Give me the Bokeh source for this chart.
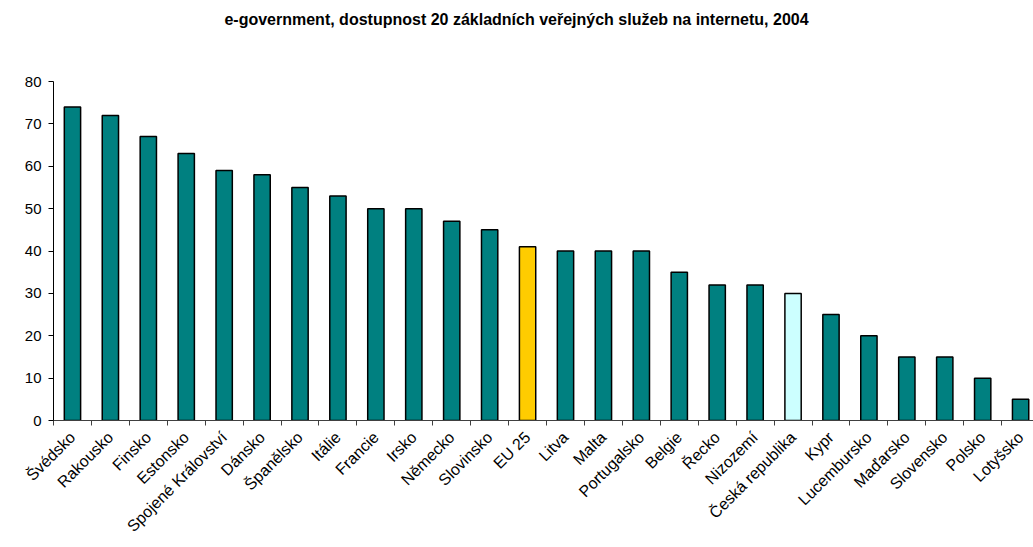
from bokeh.plotting import figure
from bokeh.models import Range1d, FixedTicker, LinearAxis, ColumnDataSource, Div
from bokeh.layouts import column
from bokeh.embed import file_html
from bokeh.resources import INLINE
import math

countries = ["Švédsko", "Rakousko", "Finsko", "Estonsko", "Spojené Království", "Dánsko",
             "Španělsko", "Itálie", "Francie", "Irsko", "Německo", "Slovinsko", "EU 25",
             "Litva", "Malta", "Portugalsko", "Belgie", "Řecko", "Nizozemí", "Česká republika",
             "Kypr", "Lucembursko", "Maďarsko", "Slovensko", "Polsko", "Lotyšsko"]
values = [74, 72, 67, 63, 59, 58, 55, 53, 50, 50, 47, 45, 41, 40, 40, 40, 35, 32, 32, 30,
          25, 20, 15, 15, 10, 5]
colors = ["#FFCC00" if c == "EU 25" else "#CCFFFF" if c == "Česká republika" else "#008080"
          for c in countries]
y_ticks = [0, 10, 20, 30, 40, 50, 60, 70, 80]
title_text = "e-government, dostupnost 20 základních veřejných služeb na internetu, 2004"

FONT = "Liberation Sans"
n = len(countries)
xs = [i + 0.5 for i in range(n)]
src = ColumnDataSource(dict(x=xs, top=values, color=colors))

TITLE_H = 45
title = Div(text=title_text, width=1033, height=TITLE_H, margin=0,
            styles={"font-family": FONT, "font-size": "16px", "font-weight": "bold",
                    "color": "#000000", "text-align": "center", "padding-top": "11px",
                    "box-sizing": "border-box", "line-height": "18px"})

p = figure(width=1033, height=547 - TITLE_H, output_backend="svg", toolbar_location=None,
           x_range=Range1d(0, 25.84), y_range=Range1d(0, 80),
           min_border_left=53, min_border_right=0, min_border_top=81 - TITLE_H,
           min_border_bottom=127, x_axis_type=None, y_axis_type=None, margin=0)
p.outline_line_color = None
p.background_fill_color = "white"
p.border_fill_color = "white"

p.vbar(x="x", top="top", width=0.43, bottom=0, fill_color="color", line_color="#000000",
       line_width=1.5, source=src)

yaxis = LinearAxis(ticker=FixedTicker(ticks=y_ticks))
yaxis.axis_line_color = "#000000"
yaxis.major_tick_line_color = "#000000"
yaxis.major_tick_out = 5
yaxis.major_tick_in = 0
yaxis.minor_tick_line_color = None
yaxis.major_label_standoff = 7
yaxis.major_label_text_font = FONT
yaxis.major_label_text_font_size = "15px"
yaxis.major_label_text_color = "#000000"
p.add_layout(yaxis, "left")

xaxis = LinearAxis(ticker=FixedTicker(ticks=xs, minor_ticks=list(range(n + 1))))
xaxis.major_label_overrides = {x: c for x, c in zip(xs, countries)}
xaxis.axis_line_color = "#404040"
xaxis.major_tick_line_color = None
xaxis.minor_tick_line_color = "#404040"
xaxis.minor_tick_out = 5
xaxis.minor_tick_in = 0
xaxis.major_label_orientation = math.pi / 4
xaxis.major_label_standoff = 8
xaxis.major_label_text_font = FONT
xaxis.major_label_text_font_size = "16px"
xaxis.major_label_text_color = "#000000"
p.add_layout(xaxis, "below")

p.ygrid.ticker = FixedTicker(ticks=y_ticks)
p.ygrid.grid_line_color = "#202020"
p.ygrid.grid_line_width = 1
p.xgrid.grid_line_color = None

layout = column(title, p, spacing=0, margin=0)
open("out.html", "w").write(file_html(layout, INLINE))
